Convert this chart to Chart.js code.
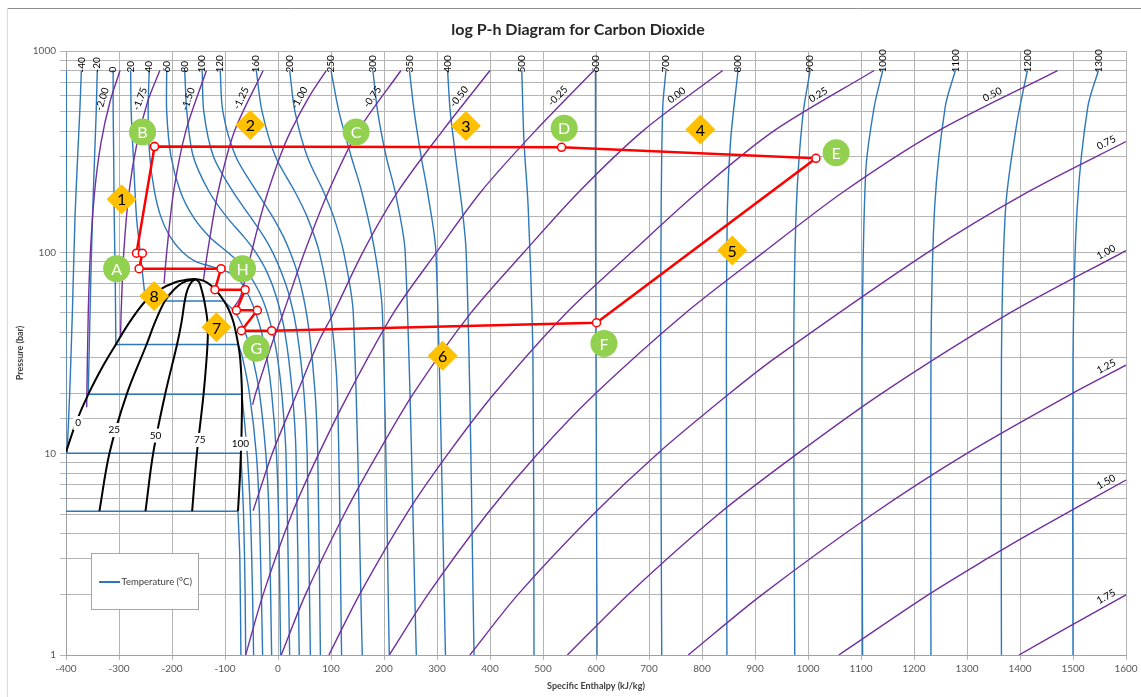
<!DOCTYPE html>
<html>
<head>
<meta charset="utf-8">
<title>log P-h Diagram for Carbon Dioxide</title>
<script src="https://cdn.jsdelivr.net/npm/chart.js@4.4.1/dist/chart.umd.min.js"></script>
<style>
html,body{margin:0;padding:0;background:#fff;}
canvas{display:block;}
</style>
</head>
<body>
<canvas id="chart" width="1141" height="697"></canvas>
<script>
// ---------------- texts ----------------
const chartTitle = 'log P-h Diagram for Carbon Dioxide';
const xAxisTitle = 'Specific Enthalpy (kJ/kg)';
const yAxisTitle = 'Pressure (bar)';
const legendText = 'Temperature (°C)';
const yTickLabels = [1, 10, 100, 1000];

// ---------------- isotherms [h kJ/kg, P bar] ----------------
const T_m56 = [[-399.5,800],[-399.5,300],[-400,100],[-400.5,20],[-401,5.18],[-75.5,5.18],[-72,3],[-70,1]];
const T_m40 = [[-371,800],[-374,500],[-378,300],[-383,150],[-388,50],[-393,20],[-398,10.05],[-70,10.05],[-65,5],[-62,2],[-61,1]];
const T_m20 = [[-341,800],[-343,500],[-346,300],[-350,150],[-354,60],[-358,19.7],[-68,19.7],[-58,10],[-52,5],[-48,2],[-46,1]];
const T_0 = [[-311,800],[-311,500],[-310,300],[-309,150],[-307,70],[-306,34.85],[-75,34.85],[-67,30],[-54,20],[-41,10],[-35,5],[-29,1]];
const T_20 = [[-278,800],[-277,500],[-273,300],[-267,150],[-260,100],[-250,57.3],[-102,57.3],[-80,50],[-62,40],[-48,30],[-35,20],[-23,10],[-17,5],[-12,1]];
const T_40 = [[-243,800],[-245,500],[-242,300],[-233,200],[-221,150],[-204,120],[-180,100],[-155,90],[-125,85],[-95,80],[-78,75],[-68,70],[-54,60],[-42,50],[-31,40],[-21,30],[-12,20],[-3,10],[1,5],[5,1]];
const T_60 = [[-210,800],[-210,500],[-202,300],[-184,200],[-160,150],[-130,120],[-95,100],[-75,90],[-58,80],[-44,70],[-31,60],[-20,50],[-10,40],[-1,30],[7,20],[15,10],[22,1]];
const T_80 = [[-176,800],[-172,500],[-160,300],[-130,200],[-97,150],[-65,120],[-42,100],[-21,80],[-3,60],[13,40],[27,20],[34,10],[40,1]];
const T_100 = [[-143,800],[-140,500],[-122,300],[-85,200],[-52,150],[-27,120],[-10,100],[6,80],[22,60],[36,40],[49,20],[55,10],[61,1]];
const T_120 = [[-109,800],[-104,500],[-80,300],[-40,200],[-10,150],[10,120],[23,100],[36,80],[48,60],[59,40],[70,20],[75,10],[80,1]];
const T_160 = [[-41,800],[-30,500],[-5,300],[32,200],[55,150],[78,100],[99,50],[112,20],[120,1]];
const T_200 = [[22,800],[32,500],[55,300],[86,200],[105,150],[124,100],[142,50],[159,1]];
const T_250 = [[100,800],[115,500],[138,300],[158,200],[183,100],[197,50],[210,1]];
const T_300 = [[179,800],[188,500],[204,300],[221,200],[240,100],[261,1]];
const T_350 = [[248,800],[257,500],[270,300],[282,200],[298,100],[316,1]];
const T_400 = [[320,800],[325,500],[335,300],[355,100],[370,1]];
const T_500 = [[460,800],[464,361],[472,168],[481,30],[483,1]];
const T_600 = [[599,800],[599,361],[599,168],[600,30],[602,1]];
const T_700 = [[732,800],[726,529],[723,168],[722,30],[724,1]];
const T_800 = [[868,800],[854,361],[848,168],[846,30],[847,1]];
const T_900 = [[1004,800],[990,472],[978,168],[973,30],[975,1]];
const T_1000 = [[1141,800],[1125,529],[1109,253],[1102,30],[1103,1]];
const T_1100 = [[1278,800],[1259,529],[1239,168],[1232,30],[1232,1]];
const T_1200 = [[1414,800],[1394,437],[1373,168],[1365,30],[1365,1]];
const T_1300 = [[1548,800],[1528,529],[1508,168],[1500,30],[1500,1]];
const isoLines = [T_m56,T_m40,T_m20,T_0,T_20,T_40,T_60,T_80,T_100,T_120,T_160,T_200,T_250,T_300,T_350,T_400,T_500,T_600,T_700,T_800,T_900,T_1000,T_1100,T_1200,T_1300];
const isoLabels = ['','-40','-20','0','20','40','60','80','100','120','160','200','250','300','350','400','500','600','700','800','900','1000','1100','1200','1300'];

// ---------------- isentropes [h, P] (kJ/kg·K labels) ----------------
const S_m200 = [[-361,17],[-358,50],[-354,100],[-346,200],[-334,350],[-317,560],[-298,800]];
const S_m175 = [[-297,38],[-296,50],[-291,100],[-281,200],[-266,350],[-246,560],[-223,800]];
const S_m150 = [[-215,70],[-210,100],[-197,200],[-174,400],[-135,800]];
const S_m125 = [[-141,72],[-133,100],[-113,200],[-82,400],[-28,800]];
const S_m100 = [[-86,52],[-71,60],[-59,80],[-50,100],[-33,150],[-19,200],[4,300],[24,400],[60,600],[91,800]];
const S_m075 = [[-48,17.5],[-42,20],[-9,36.7],[10,50],[50,100],[95,200],[151,400],[232,800]];
const S_m050 = [[-47,5.2],[-11,10],[36,20],[78,36.7],[105,50],[160,100],[226,200],[310,400],[400,800]];
const S_m025 = [[-61,1],[-28,2],[26,5],[77,10],[134,20],[218,50],[299,100],[383,200],[485,400],[596,800]];
const S_000 = [[6,1],[52,2],[125,5],[188,10],[256,20],[364,50],[464,100],[568,200],[688,400],[839,800]];
const S_025 = [[96,1],[154,2],[242,5],[321,10],[409,20],[544,50],[667,100],[793,200],[935,400],[1125,800]];
const S_050 = [[210,1],[283,2],[394,5],[490,10],[600,20],[769,50],[916,100],[1067,200],[1245,400],[1471,800]];
const S_075 = [[362,1],[453,2],[595,5],[716,10],[853,20],[939,30],[1226,100],[1416,200],[1600,355]];
const S_100 = [[546,1],[661,2],[831,5],[980,10],[1140,20],[1381,50],[1600,102]];
const S_125 = [[774,1],[914,2],[1122,5],[1299,10],[1500,20],[1600,27.5]];
const S_150 = [[1058,1],[1228,2],[1337,3],[1418,4],[1600,7.4]];
const S_175 = [[1398,1],[1500,1.42],[1600,1.99]];
const entLines = [S_m200,S_m175,S_m150,S_m125,S_m100,S_m075,S_m050,S_m025,S_000,S_025,S_050,S_075,S_100,S_125,S_150,S_175];
const entLabels = ['-2.00','-1.75','-1.50','-1.25','-1.00','-0.75','-0.50','-0.25','0.00','0.25','0.50','0.75','1.00','1.25','1.50','1.75'];

// ---------------- saturation dome and quality lines ----------------
const dome = [[-400,10.2],[-380,14.5],[-358,19.7],[-331,27],[-306,34.85],[-280,45],[-250,57.3],[-224,65],[-195,70.8],[-170,73.2],[-155,73.6],
  [-140,72.2],[-128,69],[-116,64.3],[-102,57.3],[-93,52],[-84,45],[-75,34.85],[-71,29],[-68,19.7],[-69,12],[-70,10.05],[-72,7.5],[-75.5,5.18]];
const Q25 = [[-337,5.18],[-318,10.05],[-285.5,19.7],[-248,34.85],[-232,45],[-213.5,57.3],[-197,65],[-179.5,70.8],[-155,73.6]];
const Q50 = [[-250,5.18],[-235.5,10.05],[-213,19.7],[-190.5,34.85],[-182,45],[-176,57.3],[-171,65],[-164,70.8],[-155,73.6]];
const Q75 = [[-162,5.18],[-153,10.05],[-140.5,19.7],[-133,34.85],[-133,45],[-139,57.3],[-144,65],[-148.5,70.8],[-155,73.6]];
const qualityText = ['0','25','50','75','100'];
const qualityH = [-377,-309,-231,-147.6,-71];
const qualityP = [14.2,13.1,12.3,11.7,11.2];

// ---------------- cycle ----------------
const cycleH = [-233,-267,-256,-262,-107.5,-119,-62,-78.5,-39,-69,-12,601,1015,535,-233];
const cycleP = [335,99,99,83,83,65.2,65.2,51.5,51.5,40.8,40.8,44.7,293,332.5,335];

// ---------------- state / process tags ----------------
const stateNames = ['A','B','C','D','E','F','G','H'];
const stateH = [-304.5,-255.6,147.4,540,1053,615,-41,-67];
const stateP = [83,396,396,413,312.6,35.3,33.4,83];
const stepNames = ['1','2','3','4','5','6','7','8'];
const stepH = [-295,-52.2,354.6,797,857,310.6,-116,-233.7];
const stepP = [183.4,429,424,408,102,30.6,42.4,60.7];

// ---------------- styles ----------------
const BLUE = '#2E78BA', PURPLE = '#7030A0', RED = '#FF0000', GRID = '#B4B4B4';
const FONT = 'Lato, "Open Sans", sans-serif';

function pts(arr){ return arr.map(p => ({x:p[0], y:p[1]})); }
function splitPlateau(arr){
  const segs = []; let cur = [arr[0]];
  for (let i = 1; i < arr.length; i++){
    if (arr[i][1] === arr[i-1][1]) { segs.push(cur); segs.push([arr[i-1], arr[i]]); cur = [arr[i]]; }
    else cur.push(arr[i]);
  }
  segs.push(cur);
  return segs;
}

const datasets = [];
datasets.push({ data: stateH.map((h,i)=>({x:h,y:stateP[i]})), showLine:false, pointStyle:'circle', pointRadius:13.5,
  pointBackgroundColor:'#92D050', pointBorderWidth:0, order:0, _tags: stateNames, _tagColor:'#ffffff' });
datasets.push({ data: stepH.map((h,i)=>({x:h,y:stepP[i]})), showLine:false, pointStyle:'rectRot', pointRadius:15,
  pointBackgroundColor:'#FFC000', pointBorderWidth:0, order:0, _tags: stepNames, _tagColor:'#000000' });
datasets.push({ data: cycleH.map((h,i)=>({x:h,y:cycleP[i]})), showLine:true, borderColor:RED, borderWidth:2.5, tension:0,
  pointRadius:4, pointBackgroundColor:'#ffffff', pointBorderColor:RED, pointBorderWidth:1.5, order:1 });
datasets.push({ data: pts(dome), showLine:true, borderColor:'#000', borderWidth:2, tension:0.35, pointRadius:0, order:2 });
[Q25,Q50,Q75].forEach(q => datasets.push({ data: pts(q), showLine:true, borderColor:'#000', borderWidth:2, tension:0.35, pointRadius:0, order:2 }));
entLines.forEach((s,i) => datasets.push({ data: pts(s), showLine:true, borderColor:PURPLE, borderWidth:1.4, tension:0.3, pointRadius:0, order:3,
  _entLabel: entLabels[i], _entMode: s[s.length-1][1] >= 790 ? 'top' : 'right' }));
isoLines.forEach((t,i) => {
  splitPlateau(t).forEach((seg, k) => {
    const plateau = seg.length === 2 && seg[0][1] === seg[1][1];
    datasets.push({ data: pts(seg), showLine:true, borderColor:BLUE, borderWidth:1.4, tension: plateau ? 0 : 0.3, pointRadius:0, order:4,
      _isoLabel: (k === 0 && isoLabels[i]) ? isoLabels[i] : null });
  });
});

const annotations = {
  id: 'annotations',
  beforeDraw(chart){
    const c = chart.ctx;
    c.save();
    c.fillStyle = '#fff'; c.fillRect(0, 0, chart.width, chart.height);
    c.lineWidth = 1;
    c.strokeStyle = '#8C8C8C'; c.beginPath(); c.moveTo(7, 8.5); c.lineTo(chart.width, 8.5); c.stroke();
    c.strokeStyle = '#D9D9D9'; c.beginPath(); c.moveTo(7.5, 8); c.lineTo(7.5, chart.height); c.stroke();
    c.fillStyle = '#262626'; c.font = 'bold 16px ' + FONT; c.textAlign = 'center'; c.textBaseline = 'middle';
    c.fillText(chartTitle, 578, 30);
    c.restore();
  },
  afterDatasetsDraw(chart){
    const c = chart.ctx, xs = chart.scales.x, ys = chart.scales.y;
    const X = v => xs.getPixelForValue(v), Y = v => ys.getPixelForValue(v);
    c.save();
    c.font = '10px ' + FONT; c.fillStyle = '#000';
    chart.data.datasets.forEach(ds => {
      if (ds._isoLabel) {
        const p = ds.data[0];
        c.save(); c.translate(X(p.x), Y(p.y) + 2); c.rotate(-Math.PI/2);
        c.textAlign = 'left'; c.textBaseline = 'middle'; c.fillText(ds._isoLabel, 0, 0); c.restore();
      }
      if (ds._entLabel) {
        const px = ds.data.map(d => [X(d.x), Y(d.y)]);
        let pos = null, dir = null;
        if (ds._entMode === 'top') {
          const ty = Y(560);
          for (let i = 0; i < px.length - 1; i++) {
            if (px[i][1] >= ty && px[i+1][1] <= ty) {
              const t = (px[i][1] - ty) / (px[i][1] - px[i+1][1]);
              pos = [px[i][0] + t*(px[i+1][0]-px[i][0]), ty];
              dir = [px[i+1][0]-px[i][0], px[i+1][1]-px[i][1]];
            }
          }
        } else {
          const tx = xs.right - 16;
          for (let i = 0; i < px.length - 1; i++) {
            if (px[i][0] <= tx && px[i+1][0] >= tx) {
              const t = (tx - px[i][0]) / (px[i+1][0] - px[i][0]);
              pos = [tx, px[i][1] + t*(px[i+1][1]-px[i][1])];
              dir = [px[i+1][0]-px[i][0], px[i+1][1]-px[i][1]];
            }
          }
        }
        if (pos) {
          const L = Math.hypot(dir[0], dir[1]); const d = [dir[0]/L, dir[1]/L];
          const n = [d[1], -d[0]];
          c.save(); c.translate(pos[0] + n[0]*8, pos[1] + n[1]*8); c.rotate(Math.atan2(d[1], d[0]));
          c.textAlign = 'center'; c.textBaseline = 'middle'; c.fillText(ds._entLabel, 0, 0); c.restore();
        }
      }
    });
    // quality labels
    c.textAlign = 'center'; c.textBaseline = 'middle'; c.font = '10px ' + FONT;
    qualityText.forEach((t,i) => {
      const x = X(qualityH[i]), y = Y(qualityP[i]);
      const w = c.measureText(t).width + 4;
      c.fillStyle = '#fff'; c.fillRect(x - w/2, y - 7, w, 14);
      c.fillStyle = '#000'; c.fillText(t, x, y);
    });
    // tags on state / step markers
    c.font = '16px ' + FONT;
    chart.data.datasets.forEach(ds => {
      if (!ds._tags) return;
      c.fillStyle = ds._tagColor;
      ds.data.forEach((d,i) => c.fillText(ds._tags[i], X(d.x), Y(d.y) + 1));
    });
    c.restore();
  },
  afterDraw(chart){
    const c = chart.ctx;
    c.save();
    c.fillStyle = '#fff'; c.fillRect(91, 553, 108, 56);
    c.strokeStyle = '#A6A6A6'; c.lineWidth = 1; c.strokeRect(91.5, 553.5, 107, 56);
    c.strokeStyle = BLUE; c.lineWidth = 2; c.beginPath(); c.moveTo(99, 582); c.lineTo(120, 582); c.stroke();
    c.fillStyle = '#404040'; c.font = '9.5px ' + FONT; c.textAlign = 'left'; c.textBaseline = 'middle';
    c.fillText(legendText, 121.5, 582);
    c.restore();
  }
};

Chart.defaults.font.family = FONT;
new Chart(document.getElementById('chart'), {
  type: 'scatter',
  data: { datasets },
  options: {
    responsive: false, animation: false, events: [],
    layout: { padding: { left: 0, right: 13, top: 51, bottom: 0 } },
    plugins: { legend: { display: false }, tooltip: { enabled: false }, title: { display: false } },
    scales: {
      x: {
        type: 'linear', min: -400, max: 1600,
        ticks: { stepSize: 100, autoSkip: false, maxRotation: 0, color: '#595959', font: { size: 10 }, padding: 3,
          callback: v => String(v) },
        grid: { color: GRID, lineWidth: 1, tickLength: 5 },
        border: { color: '#A0A0A0' },
        title: { display: true, text: xAxisTitle, color: '#404040', font: { size: 9, weight: 'bold' }, padding: { top: 0, bottom: 6 } },
        afterFit: s => { s.height = 42; }
      },
      y: {
        type: 'logarithmic', min: 1, max: 1000,
        ticks: { autoSkip: false, color: '#595959', font: { size: 10 }, padding: 4,
          callback: v => yTickLabels.includes(v) ? String(v) : '' },
        grid: { color: GRID, lineWidth: 1, tickLength: 6 },
        border: { color: '#A0A0A0' },
        title: { display: true, text: yAxisTitle, color: '#404040', font: { size: 9, weight: 'bold' }, padding: { top: 15, bottom: 0 } },
        afterFit: s => { s.width = 66; }
      }
    }
  },
  plugins: [annotations]
});
</script>
</body>
</html>
